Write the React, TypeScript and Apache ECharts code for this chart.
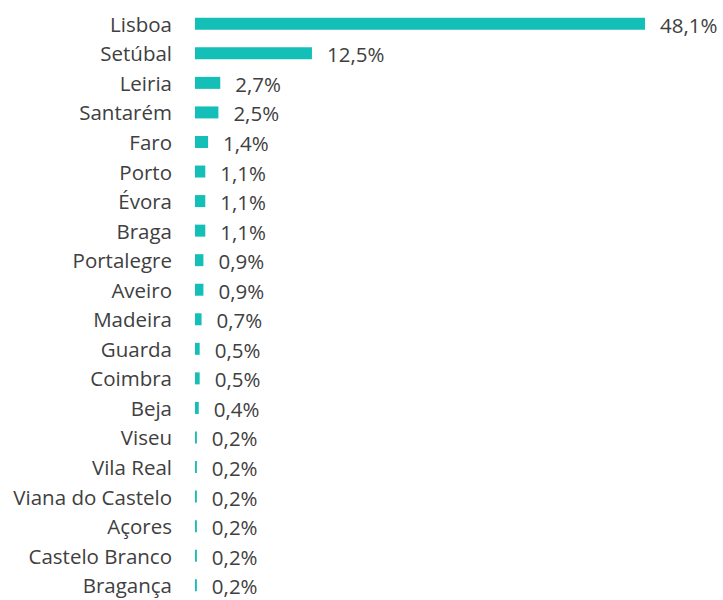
import React, { useEffect, useRef } from "react";
import * as echarts from "echarts";

const categories = [
  "Lisboa", "Setúbal", "Leiria", "Santarém", "Faro", "Porto", "Évora", "Braga",
  "Portalegre", "Aveiro", "Madeira", "Guarda", "Coimbra", "Beja", "Viseu",
  "Vila Real", "Viana do Castelo", "Açores", "Castelo Branco", "Bragança",
];
const values = [48.1, 12.5, 2.7, 2.5, 1.4, 1.1, 1.1, 1.1, 0.9, 0.9, 0.7, 0.5, 0.5, 0.4, 0.2, 0.2, 0.2, 0.2, 0.2, 0.2];

export default function App() {
  const ref = useRef<HTMLDivElement>(null);
  useEffect(() => {
    if (!ref.current) return;
    const chart = echarts.init(ref.current, undefined, { renderer: "svg" });
    const font = "'Open Sans', 'Noto Sans', sans-serif";
    chart.setOption({
      animation: false,
      grid: { left: 195, top: 9, width: 450, height: 596, containLabel: false },
      xAxis: {
        type: "value",
        min: 0,
        max: 48.1,
        show: false,
      },
      yAxis: {
        type: "category",
        data: categories,
        inverse: true,
        axisLine: { show: false },
        axisTick: { show: false },
        axisLabel: {
          margin: 23,
          color: "#404040",
          fontSize: 20.5,
          fontFamily: font,
          padding: [0, 0, 3, 0],
        },
      },
      series: [
        {
          type: "bar",
          data: values,
          barWidth: 12,
          itemStyle: { color: "#13BFB6" },
          label: {
            show: true,
            position: "right",
            distance: 15,
            color: "#404040",
            fontSize: 20.5,
            fontFamily: font,
            offset: [0, 1],
            formatter: (p: any) => p.value.toFixed(1).replace(".", ",") + "%",
          },
        },
      ],
    });
    return () => chart.dispose();
  }, []);
  return (
    <div
      ref={ref}
      style={{ position: "absolute", left: 0, top: 0, width: 723, height: 600 }}
    />
  );
}
